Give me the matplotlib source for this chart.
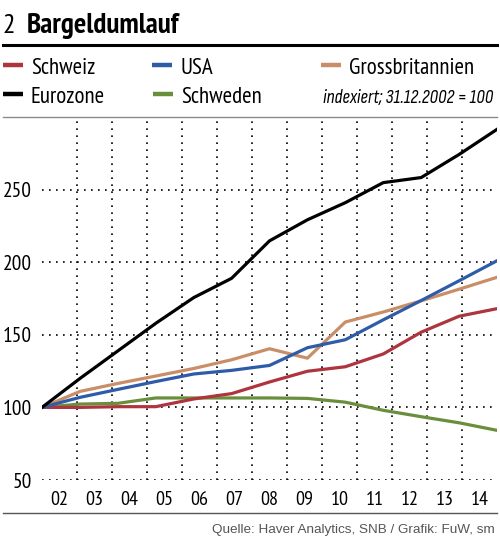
import matplotlib
matplotlib.use('Agg')
import matplotlib.pyplot as plt
from matplotlib.lines import Line2D
import numpy as np

# Bargeldumlauf, indexiert 31.12.2002 = 100, Jahreswerte 2002-2014
years = ['02', '03', '04', '05', '06', '07', '08', '09', '10', '11', '12', '13', '14']
schweiz = [100, 100, 100.5, 100.5, 105.8, 109.5, 117.5, 124.9, 128, 136.8, 151.8, 162.8, 168]
usa = [100, 106.9, 112.4, 117.8, 123, 125.5, 128.9, 141.1, 146.6, 160.3, 173.6, 187.2, 201]
gb = [100, 111, 116.5, 121.6, 126.8, 132.8, 140.4, 133.9, 158.8, 165.7, 173.4, 181.4, 189.6]
eurozone = [100, 119.9, 138.9, 157.9, 175.6, 188.9, 214.7, 229.2, 241, 254.8, 258.3, 274.2, 291.5]
schweden = [100, 102.3, 102.8, 106.5, 106.5, 106.5, 106.5, 106.2, 103.6, 98, 93.6, 89.4, 84.2]
yticks = [50, 100, 150, 200, 250]

RED = '#ae343e'
BLUE = '#2f5ca8'
BROWN = '#c98e68'
BLACK = '#000000'
GREEN = '#6a8f3c'

FONT = ['PT Sans Narrow', 'Roboto Condensed', 'Sofia Sans Condensed', 'DejaVu Sans']
FONT_IT = ['Sofia Sans Condensed', 'Roboto Condensed', 'DejaVu Sans']
FONT_SRC = ['Liberation Sans', 'DejaVu Sans']

W, H = 500, 538
fig = plt.figure(figsize=(W / 100, H / 100), dpi=100)
ax = fig.add_axes([42 / W, 1 - 480 / H, 455 / W, 363 / H])

n = len(years)
x = np.arange(n)
step = (n - 1) / n

# dotted grid
for i in range(1, n):
    ax.axvline(i * step, color='black', lw=1.2, ls=(0, (1, 3.2)), zorder=1)
for v in yticks:
    ax.axhline(v, color='black', lw=1.2, ls=(0, (1, 3.2)), zorder=1)

ax.plot(x, schweden, color=GREEN, lw=2.3, zorder=3)
ax.plot(x, schweiz, color=RED, lw=2.3, zorder=3)
ax.plot(x, usa, color=BLUE, lw=2.3, zorder=3)
ax.plot(x, gb, color=BROWN, lw=2.3, zorder=2)
ax.plot(x, eurozone, color=BLACK, lw=2.3, zorder=4)

ax.set_xlim(0, n - 1)
ax.set_ylim(50, 300)
ax.set_yticks(yticks)
ax.set_yticklabels([str(v) for v in yticks], family=FONT, fontsize=15.5)
ax.set_xticks([(i + 0.5) * step for i in range(n)])
ax.set_xticklabels(years, family=FONT, fontsize=14.5)
ax.tick_params(length=0, pad=7)
ax.tick_params(axis='x', pad=8)
for s in ax.spines.values():
    s.set_visible(False)


def fy(py):
    return 1 - py / H


def fx(px):
    return px / W


# title
fig.text(fx(3), fy(33), '2', family=FONT, fontsize=20, va='baseline')
fig.text(fx(27), fy(33), 'Bargeldumlauf', family=FONT, fontsize=21,
         fontweight='bold', va='baseline')
fig.add_artist(Line2D([fx(3), fx(497)], [fy(45), fy(45)], color='black', lw=2.2))

# legend
legend = [('Schweiz', RED, 3, 74), ('USA', BLUE, 152, 74), ('Grossbritannien', BROWN, 321, 74),
          ('Eurozone', BLACK, 3, 103), ('Schweden', GREEN, 153, 103)]
for name, col, lx, ly in legend:
    fig.add_artist(Line2D([fx(lx), fx(lx + 20)], [fy(ly - 9), fy(ly - 9)], color=col, lw=3.2,
                          solid_capstyle='butt'))
    fig.text(fx(lx + 28), fy(ly), name, family=FONT, fontsize=16.5, va='baseline')
fig.text(fx(493), fy(103), 'indexiert; 31.12.2002 = 100', family=FONT_IT, fontsize=13.8,
         style='italic', ha='right', va='baseline')

# frame lines
fig.add_artist(Line2D([fx(3), fx(497)], [fy(117), fy(117)], color='#8a8a8a', lw=1))
fig.add_artist(Line2D([fx(3), fx(497)], [fy(513), fy(513)], color='#555555', lw=1))

fig.text(fx(495), fy(533), 'Quelle: Haver Analytics, SNB / Grafik: FuW, sm',
         family=FONT_SRC, fontsize=9.7, color='#555555', ha='right', va='baseline')

fig.savefig('out.png', dpi=100)
